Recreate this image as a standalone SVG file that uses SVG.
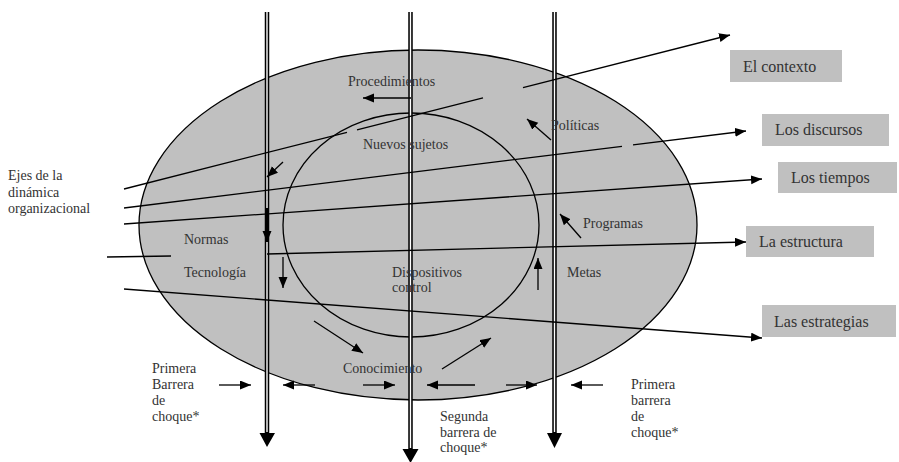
<svg xmlns="http://www.w3.org/2000/svg" width="899" height="462" viewBox="0 0 899 462">
<style>
text{font-family:'Liberation Serif',serif;fill:#333}
.lbl{font-size:14px}
.bt{font-size:16px}
.boxr{fill:#c0c0c0}
.ln{stroke:#000;stroke-width:1.3;fill:none}
.arr{stroke:#000;stroke-width:1.3;fill:none;marker-end:url(#ah)}
.dbl{stroke:#000;stroke-width:4.5;fill:none}
.gap{stroke:#fff;stroke-width:1.4;fill:none}
</style>
<defs>
<marker id="ah" markerUnits="userSpaceOnUse" markerWidth="12" markerHeight="10" refX="11" refY="4.5" orient="auto">
<path d="M0,0 L11,4.5 L0,9 z" fill="#000"/>
</marker>
</defs>
<rect width="899" height="462" fill="#fff"/>
<g id="outer-ellipse"><ellipse cx="418" cy="225" rx="279" ry="175" fill="#c0c0c0" stroke="#000" stroke-width="1.3"/></g>
<g id="inner-circle"><ellipse cx="411" cy="225" rx="128" ry="112" fill="none" stroke="#000" stroke-width="1.3"/></g>
<g id="barriers">
<path class="dbl" d="M267 12 V434 M410.5 12 V450 M554.5 12 V434"/>
<path class="gap" d="M267 12 V432 M410.5 12 V448 M554.5 12 V432"/>
<path d="M259.5 433 L275 433 L267 447 z M402.5 449 L418.5 449 L410.5 463 z M547 433 L562 433 L554.5 448 z" fill="#000"/>
</g>
<g id="connectors">
<path class="ln" d="M124 189 L347 132.3 M357 129.8 L483 97.8"/>
<path class="arr" d="M523 87.6 L730 35"/>
<path class="ln" d="M124 208 L622 146.3"/>
<path class="arr" d="M633 144.9 L746 131"/>
<path class="arr" d="M124 224 L762 179"/>
<path class="ln" d="M107 257 L171 256"/>
<path class="arr" d="M267 254 L746 242"/>
<path class="arr" d="M124 289 L762 338"/>
<path class="arr" d="M411 98 L363 98"/>
<path class="arr" d="M551 140 L527 119"/>
<path class="arr" d="M581 238 L560 214"/>
<path class="arr" d="M538 290 L538 258"/>
<path class="arr" d="M283 162 L267 177"/>
<path class="arr" d="M267 208 L267 242" style="stroke-width:2.2"/>
<path class="arr" d="M283 257 L283 288"/>
<path class="arr" d="M314 321 L363 353"/>
<path class="arr" d="M442 369 L491 338"/>
<path class="arr" d="M219 385 L251 385"/>
<path class="arr" d="M315 385 L283 385"/>
<path class="arr" d="M363 385 L395 385"/>
<path class="arr" d="M475 385 L427 385"/>
<path class="arr" d="M506 385 L537 385"/>
<path class="arr" d="M603 385 L571 385"/>
</g>
<g id="box-contexto"><rect class="boxr" x="730" y="50" width="112" height="32"/><text class="bt" font-family="Liberation Serif" x="743" y="72">El contexto</text></g>
<g id="box-discursos"><rect class="boxr" x="762" y="114" width="127" height="32"/><text class="bt" font-family="Liberation Serif" x="775" y="135">Los discursos</text></g>
<g id="box-tiempos"><rect class="boxr" x="778" y="162" width="119" height="31"/><text class="bt" font-family="Liberation Serif" x="791" y="183">Los tiempos</text></g>
<g id="box-estructura"><rect class="boxr" x="746" y="226" width="128" height="31"/><text class="bt" font-family="Liberation Serif" x="759" y="247">La estructura</text></g>
<g id="box-estrategias"><rect class="boxr" x="762" y="305" width="134" height="32"/><text class="bt" font-family="Liberation Serif" x="774" y="327">Las estrategias</text></g>
<g id="labels">
<text class="lbl" font-family="Liberation Serif" x="348" y="86">Procedimientos</text>
<text class="lbl" font-family="Liberation Serif" x="363" y="149">Nuevos sujetos</text>
<text class="lbl" font-family="Liberation Serif" x="551" y="130">Políticas</text>
<text class="lbl" font-family="Liberation Serif" x="583" y="228">Programas</text>
<text class="lbl" font-family="Liberation Serif" x="567" y="277">Metas</text>
<text class="lbl" font-family="Liberation Serif" x="392" y="277">Dispositivos</text>
<text class="lbl" font-family="Liberation Serif" x="392" y="292">control</text>
<text class="lbl" font-family="Liberation Serif" x="184" y="244">Normas</text>
<text class="lbl" font-family="Liberation Serif" x="184" y="277">Tecnología</text>
<text class="lbl" font-family="Liberation Serif" x="343" y="373">Conocimiento</text>
<text class="lbl" font-family="Liberation Serif" x="8" y="180">Ejes de la</text>
<text class="lbl" font-family="Liberation Serif" x="8" y="197">dinámica</text>
<text class="lbl" font-family="Liberation Serif" x="8" y="213">organizacional</text>
<text class="lbl" font-family="Liberation Serif" x="152" y="373">Primera</text>
<text class="lbl" font-family="Liberation Serif" x="152" y="389">Barrera</text>
<text class="lbl" font-family="Liberation Serif" x="152" y="405">de</text>
<text class="lbl" font-family="Liberation Serif" x="152" y="421">choque*</text>
<text class="lbl" font-family="Liberation Serif" x="440" y="421">Segunda</text>
<text class="lbl" font-family="Liberation Serif" x="440" y="437">barrera de</text>
<text class="lbl" font-family="Liberation Serif" x="440" y="452">choque*</text>
<text class="lbl" font-family="Liberation Serif" x="631" y="389">Primera</text>
<text class="lbl" font-family="Liberation Serif" x="631" y="405">barrera</text>
<text class="lbl" font-family="Liberation Serif" x="631" y="421">de</text>
<text class="lbl" font-family="Liberation Serif" x="631" y="437">choque*</text>
</g>
</svg>
